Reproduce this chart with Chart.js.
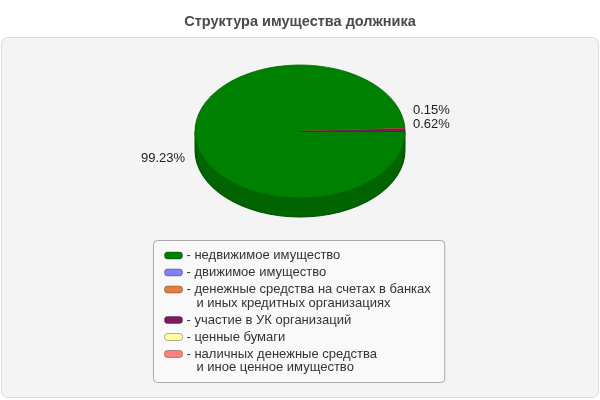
<!DOCTYPE html>
<html lang="ru">
<head>
<meta charset="utf-8">
<title>Структура имущества должника</title>
<script src="https://cdn.jsdelivr.net/npm/chart.js@4"></script>
<style>
  html, body { margin: 0; padding: 0; background: #fff; }
  #wrap { width: 600px; height: 400px; }
</style>
</head>
<body>
<div id="wrap"><canvas id="grafico" width="600" height="400"></canvas></div>
<script>
const titulo = 'Структура имущества должника';

// each category may wrap onto a second line in the legend
const categorias = [
  ['недвижимое имущество'],
  ['движимое имущество'],
  ['денежные средства на счетах в банках', 'и иных кредитных организациях'],
  ['участие в УК организаций'],
  ['ценные бумаги'],
  ['наличных денежные средства', 'и иное ценное имущество'],
];
const percentuais = [99.23, 0, 0.15, 0.62, 0, 0];
const cores = ['#008000', '#8080ff', '#e08040', '#801a5e', '#ffffa0', '#ff8080'];

const FONT = '"Liberation Sans", Arial, sans-serif';
const DEPTH = 19;            // thickness of the pie rim, px
const SQUASH = 66.5 / 105;   // vertical/horizontal ratio of the tilted pie

function darken(hex, f) {
  const n = parseInt(hex.slice(1), 16);
  const r = Math.round(((n >> 16) & 255) * f);
  const g = Math.round(((n >> 8) & 255) * f);
  const b = Math.round((n & 255) * f);
  return `rgb(${r},${g},${b})`;
}

function tilt(ctx, a) {
  ctx.translate(a.x, a.y);
  ctx.scale(1, SQUASH);
  ctx.translate(-a.x, -a.y);
}

const painelPlugin = {
  id: 'painel',
  beforeDraw(chart) {
    const { ctx, width, height } = chart;
    ctx.save();
    ctx.beginPath();
    ctx.roundRect(1.5, 37.5, width - 3, height - 40, 6);
    ctx.fillStyle = '#f4f4f4';
    ctx.fill();
    ctx.strokeStyle = '#dcdcdc';
    ctx.lineWidth = 1;
    ctx.stroke();
    ctx.restore();
  }
};

const pizza3dPlugin = {
  id: 'pizza3d',
  beforeDatasetsDraw(chart) {
    const { ctx } = chart;
    const arcs = chart.getDatasetMeta(0).data;
    const bg = chart.data.datasets[0].backgroundColor;
    const a0 = arcs[0];

    // rim: stack of shifted wedges in a darker shade
    for (let dy = DEPTH; dy >= 1; dy--) {
      arcs.forEach((a, i) => {
        if (!(a.circumference > 0)) return;
        ctx.save();
        ctx.translate(0, dy);
        tilt(ctx, a);
        ctx.beginPath();
        ctx.moveTo(a.x, a.y);
        ctx.arc(a.x, a.y, a.outerRadius, a.startAngle, a.endAngle);
        ctx.closePath();
        ctx.fillStyle = darken(bg[i], 0.78);
        ctx.fill();
        ctx.restore();
      });
    }

    // outline of the rim
    ctx.save();
    ctx.strokeStyle = darken(bg[0], 0.62);
    ctx.lineWidth = 1;
    ctx.beginPath();
    ctx.ellipse(a0.x, a0.y + DEPTH, a0.outerRadius, a0.outerRadius * SQUASH, 0, 0, Math.PI);
    ctx.stroke();
    ctx.beginPath();
    ctx.moveTo(a0.x - a0.outerRadius, a0.y);
    ctx.lineTo(a0.x - a0.outerRadius, a0.y + DEPTH);
    ctx.moveTo(a0.x + a0.outerRadius, a0.y);
    ctx.lineTo(a0.x + a0.outerRadius, a0.y + DEPTH);
    ctx.stroke();
    ctx.restore();

    // top face is drawn by Chart.js under this transform
    ctx.save();
    tilt(ctx, a0);
  },
  afterDatasetsDraw(chart) {
    const { ctx } = chart;
    ctx.restore();

    const arcs = chart.getDatasetMeta(0).data;
    const valores = chart.data.datasets[0].data;
    const total = valores.reduce((s, v) => s + v, 0);

    const direita = [];
    const esquerda = [];
    arcs.forEach((a, i) => {
      if (!valores[i]) return;
      const ang = (a.startAngle + a.endAngle) / 2;
      const ex = a.x + a.outerRadius * Math.cos(ang);
      const ey = a.y + a.outerRadius * SQUASH * Math.sin(ang);
      const texto = (valores[i] / total * 100).toFixed(2) + '%';
      if (Math.cos(ang) >= 0) direita.push({ x: ex + 8, y: ey - 6, texto });
      else esquerda.push({ x: ex - 10, y: ey + 25, texto });  // left labels sit beside the rim
    });

    // keep right-hand labels from overlapping: push upwards
    direita.sort((p, q) => q.y - p.y);
    for (let i = 1; i < direita.length; i++) {
      if (direita[i].y > direita[i - 1].y - 14) direita[i].y = direita[i - 1].y - 14;
    }

    ctx.save();
    ctx.font = `13px ${FONT}`;
    ctx.fillStyle = '#222';
    ctx.textBaseline = 'middle';
    ctx.textAlign = 'left';
    direita.forEach(l => ctx.fillText(l.texto, l.x, l.y));
    ctx.textAlign = 'right';
    esquerda.forEach(l => ctx.fillText(l.texto, l.x, l.y));
    ctx.restore();
  }
};

const legendaPlugin = {
  id: 'legendaCaixa',
  afterDraw(chart) {
    const { ctx } = chart;
    const labels = chart.data.labels;
    const bg = chart.data.datasets[0].backgroundColor;
    const top = 240.5, swatchW = 18, swatchH = 7, gap = 4, padL = 11, padR = 14;
    const passo = 17, linha = 13.5, padV = 15;

    ctx.save();
    ctx.font = `13px ${FONT}`;
    const recuo = ctx.measureText('- ').width + 2;
    let maxW = 0;
    labels.forEach(l => l.forEach((t, j) => {
      maxW = Math.max(maxW, j ? recuo + ctx.measureText(t).width : ctx.measureText('- ' + t).width);
    }));
    const extras = labels.reduce((n, l) => n + l.length - 1, 0);
    const boxW = padL + swatchW + gap + maxW + padR;
    const boxH = padV * 2 + passo * (labels.length - 1) + linha * extras;
    const left = Math.round(chart.width / 2 - boxW / 2) - 0.5;

    ctx.beginPath();
    ctx.roundRect(left, top, boxW, boxH, 4);
    ctx.fillStyle = '#f9f9f9';
    ctx.fill();
    ctx.strokeStyle = '#a8a8a8';
    ctx.lineWidth = 1;
    ctx.stroke();

    ctx.textBaseline = 'middle';
    ctx.textAlign = 'left';
    let y = top + padV;
    labels.forEach((l, i) => {
      const sx = left + padL;
      ctx.beginPath();
      ctx.roundRect(sx, y - swatchH / 2, swatchW, swatchH, 3);
      ctx.fillStyle = bg[i];
      ctx.fill();
      ctx.strokeStyle = 'rgba(0,0,0,0.3)';
      ctx.stroke();

      ctx.fillStyle = '#333';
      const tx = sx + swatchW + gap;
      l.forEach((t, j) => {
        if (j === 0) ctx.fillText('- ' + t, tx, y);
        else ctx.fillText(t, tx + recuo, y + linha * j);
      });
      y += passo + linha * (l.length - 1);
    });
    ctx.restore();
  }
};

new Chart(document.getElementById('grafico'), {
  type: 'pie',
  data: {
    labels: categorias,
    datasets: [{
      data: percentuais,
      backgroundColor: cores,
      borderColor: cores.map(c => darken(c, 0.8)),
      borderWidth: 1,
    }]
  },
  options: {
    responsive: false,
    animation: false,
    events: [],
    radius: 105,
    rotation: 90,
    layout: { padding: { top: 0, bottom: 167.7, left: 0, right: 0 } },
    plugins: {
      legend: { display: false },
      tooltip: { enabled: false },
      title: {
        display: true,
        text: titulo,
        color: '#4a4a4a',
        font: { family: FONT, size: 14.5, weight: 'bold' },
        padding: { top: 13.3, bottom: 0 }
      }
    }
  },
  plugins: [painelPlugin, pizza3dPlugin, legendaPlugin]
});
</script>
</body>
</html>
